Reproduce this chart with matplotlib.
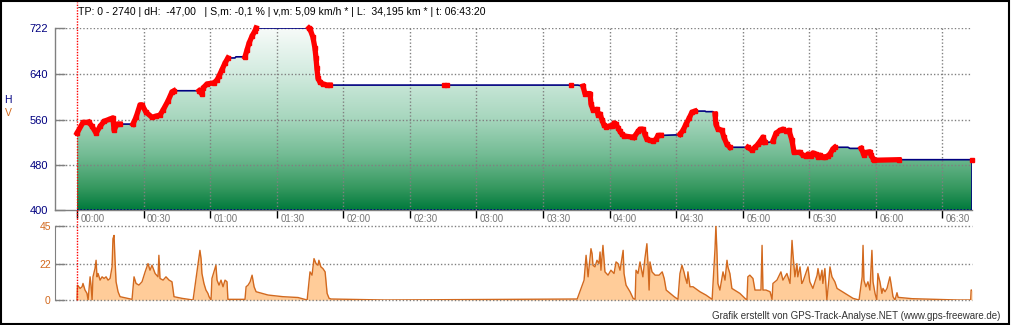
import matplotlib
matplotlib.use("Agg")
import matplotlib.pyplot as plt
import numpy as np
from matplotlib.colors import LinearSegmentedColormap
from matplotlib.lines import Line2D
from matplotlib.patches import Rectangle

plt.rcParams['font.family'] = ['Liberation Sans', 'DejaVu Sans']

# elevation profile: time [min], height [m]
elev_t = [0.0, 2.7, 5.0, 5.4, 6.8, 8.6, 10.4, 12.2, 14.9, 16.2, 16.7, 18.0, 19.4,
          25.2, 26.6, 28.4, 29.3, 31.1, 33.8, 35.6, 37.4, 38.8, 41.0, 42.8, 43.7,
          55.0, 56.3, 56.8, 58.6, 61.7, 63.1, 64.0, 65.3, 66.7, 68.0, 71.2, 71.6,
          75.7, 76.6, 77.5, 78.9, 80.2, 80.7, 104.5, 105.0, 106.3, 107.2, 107.7,
          108.1, 108.6, 109.5, 110.8, 112.7, 114.0, 225.7, 228.0, 228.9, 231.2,
          231.6, 232.5, 234.3, 234.8, 235.7, 236.6, 237.5, 238.4, 240.2, 241.1,
          242.0, 242.9, 243.8, 244.7, 245.6, 246.5, 250.1, 251.0, 252.8, 253.7,
          255.0, 255.9, 256.8, 258.2, 259.5, 260.9, 261.8, 263.2, 270.8, 271.7,
          273.1, 274.4, 275.8, 277.1, 278.5, 283.0, 283.4, 286.6, 287.5, 287.9,
          288.8, 290.6, 291.5, 292.9, 294.2, 301.9, 302.3, 304.1, 305.5, 306.8,
          307.7, 309.1, 310.0, 313.2, 313.6, 315.0, 316.8, 318.1, 319.5, 320.8,
          322.2, 323.1, 325.8, 327.1, 328.5, 329.4, 330.7, 331.6, 333.0, 333.9,
          334.8, 336.1, 337.0, 338.4, 339.3, 340.6, 341.5, 347.4, 348.3, 352.8,
          353.3, 354.2, 354.6, 356.0, 357.3, 357.8, 358.7, 359.1, 370.4, 403.3]
elev_h = [536, 555, 555, 555, 548, 536, 548, 557, 561, 563, 541, 552, 552,
          552, 564, 586, 586, 573, 564, 566, 568, 577, 593, 609, 611,
          611, 605, 616, 623, 625, 630, 637, 648, 660, 669, 669, 671,
          671, 683, 695, 708, 717, 722, 722, 720, 706, 687, 669,
          651, 633, 626, 623, 621, 621, 621, 619, 606, 606,
          588, 577, 578, 568, 570, 559, 550, 547, 549, 548,
          554, 552, 545, 539, 534, 531, 529, 529, 539, 543,
          543, 534, 525, 523, 522, 525, 532, 532, 533, 534,
          541, 552, 562, 573, 575, 575, 574, 574, 570, 552,
          543, 541, 529, 516, 511, 511, 511, 506, 511, 516,
          521, 529, 520, 520, 522, 536, 541, 543, 539, 541,
          523, 502, 502, 497, 495, 499, 496, 501, 499, 494,
          497, 494, 493, 496, 499, 508, 511, 511, 509, 509,
          509, 502, 497, 502, 503, 497, 491, 488, 489, 489]

# time spans shown in red (climbing / descending)
red_spans = [(0.0, 5.0), (5.4, 19.4), (25.2, 43.7), (55.0, 68.0), (75.7, 80.7),
             (104.5, 114.0), (228.0, 250.1), (251.0, 263.2), (271.7, 278.5),
             (287.5, 294.2), (302.3, 310.0), (313.6, 341.5), (353.3, 370.4),
             (403.3, 403.3)]
red_dots_t = [165.3, 166.6, 222.6]
red_dots_h = [621, 621, 621]

# speed: time [min], km/h
speed_t = [0.0, 0.2, 1.4, 2.3, 2.7, 3.6, 4.5, 5.0, 5.9, 6.3, 6.8, 7.2, 8.1, 8.6, 9.0,
           9.5, 10.4, 11.3, 12.2, 13.1, 14.0, 14.9, 15.8, 16.2, 16.7, 17.1, 17.6,
           18.5, 19.4, 24.8, 25.7, 26.6, 27.9, 29.3, 30.7, 32.0, 32.9, 33.8, 35.2,
           36.5, 36.9, 37.4, 38.8, 40.1, 41.5, 42.8, 43.7, 47.3, 52.3, 55.4, 55.9,
           56.3, 57.2, 58.1, 59.0, 59.5, 60.4, 60.8, 61.7, 62.6, 63.1, 64.0, 64.9,
           65.8, 66.7, 67.6, 68.0, 75.7, 76.2, 77.1, 78.0, 78.9, 79.8, 80.7, 83.4,
           86.1, 92.8, 99.6, 103.7, 105.0, 105.9, 106.8, 107.7, 108.6, 109.0, 109.9,
           110.8, 111.8, 112.7, 113.6, 114.5, 138.8, 225.4, 228.5, 229.4, 230.3,
           231.6, 232.1, 232.5, 233.4, 234.3, 235.2, 235.7, 236.1, 237.0, 237.9,
           239.3, 240.6, 242.0, 242.9, 243.8, 244.7, 246.1, 246.5, 247.4, 249.2,
           250.6, 251.5, 251.9, 252.8, 253.7, 255.0, 255.9, 256.8, 257.3, 257.8,
           258.2, 259.1, 260.5, 262.3, 263.7, 264.6, 265.5, 267.3, 269.1, 270.8,
           271.7, 272.6, 273.5, 274.0, 274.9, 275.3, 276.2, 277.6, 280.7, 283.4,
           286.2, 287.5, 287.9, 288.4, 288.8, 289.7, 291.1, 292.0, 292.9, 293.3,
           294.2, 295.1, 298.7, 301.0, 301.9, 302.3, 303.2, 304.6, 305.5, 308.2,
           308.7, 309.1, 310.5, 312.3, 313.2, 313.6, 315.4, 317.2, 318.1, 319.9,
           321.3, 322.2, 322.6, 323.5, 324.4, 324.8, 325.8, 326.6, 327.1, 329.4,
           330.2, 331.6, 333.5, 333.9, 334.8, 335.7, 336.1, 337.0, 337.9, 338.8,
           339.3, 340.2, 341.5, 342.5, 346.1, 349.7, 352.4, 353.8, 354.2, 354.6,
           355.5, 356.4, 357.3, 358.2, 358.7, 359.6, 360.4, 360.9, 361.8, 362.7,
           363.2, 364.1, 365.0, 366.3, 366.8, 367.7, 368.6, 369.5, 370.0, 376.3,
           397.0, 402.7, 402.9, 403.3]
speed_v = [0, 9, 7, 8, 10, 6, 4, 0, 14, 9, 0, 14, 19, 24, 14,
           16, 12, 14, 13, 14, 12, 13, 20, 37, 39, 25, 11,
           5, 2, 0.4, 14, 10, 9, 11, 17, 22, 18, 21, 16,
           14, 27, 13, 12, 14, 12, 11, 2, 1, 0, 30, 25,
           16, 10, 6, 4, 2, 0, 13, 17, 21, 12, 9, 12,
           8, 12, 11, 0.4, 0.4, 8, 9, 11, 15, 8, 5, 4,
           3, 2, 1.5, 0, 17, 15, 25, 22, 21, 24, 20,
           19, 17, 4, 1, 0.6, 0, 0.6, 12, 27, 14,
           31, 28, 21, 20, 24, 22, 29, 18, 33, 17,
           15, 18, 16, 23, 22, 18, 30, 16, 9, 5,
           1, 0.4, 18, 16, 23, 14, 25, 34, 22, 6,
           23, 17, 15, 15, 17, 13, 6, 4, 2, 0.4,
           16, 21, 17, 14, 10, 17, 8, 8, 5, 3,
           0.4, 31, 45, 28, 10, 6, 17, 12, 24, 20,
           16, 7, 4, 1, 0, 14, 15, 13, 6, 6,
           33, 6, 6, 5, 0.4, 10, 12, 17, 12, 16,
           10, 36, 28, 14, 22, 14, 20, 10, 11, 20,
           11, 7, 15, 19, 12, 18, 10, 19, 0, 12,
           20, 14, 11, 7, 4, 1, 0, 14, 33, 12,
           8, 11, 6, 30, 11, 4, 0, 16, 11, 4,
           7, 5, 7, 14, 10, 2, 0, 4.4, 1.6, 0.8,
           0, 0, 6, 6]

time_ticks = list(range(0, 391, 30))
time_labels = ["%02d:%02d" % (m // 60, m % 60) for m in time_ticks]
h_ticks = [400, 480, 560, 640, 722]
v_ticks = [0, 22, 45]

title = ("TP: 0 - 2740 | dH:  -47,00   | S,m: -0,1 % | v,m: 5,09 km/h * "
         "| L:  34,195 km * | t: 06:43:20")
footer = "Grafik erstellt von GPS-Track-Analyse.NET (www.gps-freeware.de)"

W, H = 1011, 325
fig = plt.figure(figsize=(W / 100, H / 100), dpi=100)
fig.patch.set_facecolor("white")

def fx(px):
    return px / W

def fy(py):
    return 1 - py / H

x0, x1 = 55, 972
t_end = 403.3
ppm = (x1 - 77) / t_end
xlim = (-(77 - x0) / ppm, t_end)

grey = "#808080"
navy = "#000080"
orange = "#d2691e"
dots = (0, (1, 1.5))

# ---- elevation panel
ax = fig.add_axes([fx(x0), fy(210), fx(x1) - fx(x0), fy(28) - fy(210)])
ax.set_xlim(*xlim)
ax.set_ylim(400, 722)

cmap = LinearSegmentedColormap.from_list("g", [
    (0.0, "#007a3c"), (0.12, "#35985f"), (0.3, "#72bb93"),
    (0.5, "#a6d6bd"), (0.75, "#d2ebdf"), (1.0, "#f7fbf9")])
poly = ax.fill_between(elev_t, elev_h, 400, facecolor="none", edgecolor="none")
grad = np.linspace(0, 1, 256).reshape(-1, 1)
im = ax.imshow(grad, cmap=cmap, origin="lower", aspect="auto",
               extent=[0, t_end, 400, 722], zorder=1)
im.set_clip_path(poly.get_paths()[0], transform=ax.transData)

for h in h_ticks[1:]:
    ax.axhline(h, color=grey, lw=1, ls=dots, zorder=2)
for t in time_ticks[1:]:
    ax.axvline(t, color=grey, lw=1, ls=dots, zorder=2)

ax.plot(elev_t, elev_h, color=navy, lw=1.2, zorder=3)
ax.plot([t_end, t_end], [400, elev_h[-1]], color=navy, lw=1.2, zorder=3)
ax.plot([0, t_end], [400, 400], color=navy, lw=1.2, ls=(0, (1, 1)), zorder=4)

et = np.array(elev_t)
eh = np.array(elev_h)
for a, b in red_spans:
    m = (et >= a) & (et <= b)
    ax.plot(et[m], eh[m], color="red", lw=3.8, marker="s", ms=3.2,
            solid_joinstyle="round", solid_capstyle="projecting",
            zorder=5, clip_on=False)
ax.plot(red_dots_t, red_dots_h, ls="none", color="red", marker="s", ms=3, zorder=5)

for s in ["top", "right"]:
    ax.spines[s].set_visible(False)
for s in ["left", "bottom"]:
    ax.spines[s].set_color(grey)
    ax.spines[s].set_linewidth(1)
ax.set_yticks(h_ticks)
ax.set_yticklabels([str(h) for h in h_ticks])
ax.tick_params(axis="y", direction="in", length=7, color=grey, width=1,
               labelcolor=navy, labelsize=8, pad=5)
ax.set_xticks(time_ticks)
ax.set_xticklabels([])
ax.tick_params(axis="x", direction="out", length=6, color="black", width=1)
for t, lab in zip(time_ticks, time_labels):
    ax.annotate(lab, (t, 400), xytext=(2.5, -3), textcoords="offset points",
                ha="left", va="top", fontsize=7, color="#777777",
                annotation_clip=False)

# ---- speed panel
ax2 = fig.add_axes([fx(x0), fy(300), fx(x1) - fx(x0), fy(225.5) - fy(300)])
ax2.set_xlim(*xlim)
ax2.set_ylim(0, 45)
ax2.fill_between(speed_t, speed_v, 0, color="#ffcc99", lw=0, zorder=1)
ax2.plot(speed_t, speed_v, color=orange, lw=1, zorder=3)
for v in v_ticks:
    ax2.axhline(v, color=grey, lw=1, ls=dots, zorder=2, clip_on=False)
for s in ["top", "right", "bottom"]:
    ax2.spines[s].set_visible(False)
ax2.spines["left"].set_color(grey)
ax2.set_xticks([])
ax2.set_yticks(v_ticks)
ax2.set_yticklabels([str(v) for v in v_ticks])
ax2.tick_params(axis="y", direction="in", length=7, color=grey, width=1,
                labelcolor=orange, labelsize=7.5, pad=3)

# ---- decorations
fig.add_artist(Line2D([fx(77), fx(77)], [fy(300), fy(2)], transform=fig.transFigure,
                      color="red", lw=1, ls=(0, (1, 1)), zorder=10))
fig.text(fx(78), fy(12), title, fontsize=7.6, color="black", ha="left", va="center")
fig.text(fx(8), fy(100), "H", fontsize=7.5, color=navy, ha="center", va="center")
fig.text(fx(8), fy(113), "V", fontsize=7.5, color=orange, ha="center", va="center")
fig.text(fx(1000), fy(316), footer, fontsize=7, color="#333333", ha="right", va="center")
fig.add_artist(Rectangle((0.001, 0.002), 0.997, 0.995, transform=fig.transFigure,
                         fill=False, edgecolor="black", lw=1.5))

fig.savefig("out.png", dpi=100)
